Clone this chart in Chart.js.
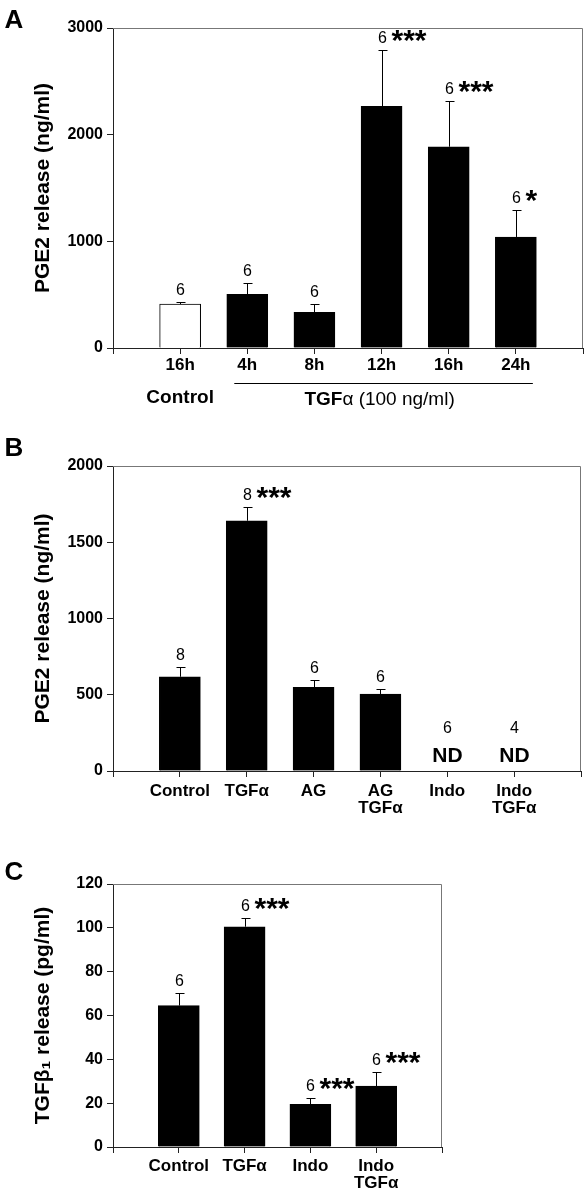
<!DOCTYPE html>
<html>
<head>
<meta charset="utf-8">
<script src="https://cdn.jsdelivr.net/npm/chart.js@4/dist/chart.umd.min.js"></script>
<style>
  body { margin: 0; background: #fff; width: 586px; height: 1199px; position: relative; overflow: hidden; }
  canvas { position: absolute; left: 0; }
</style>
</head>
<body>
<canvas id="chartA" width="586" height="410" style="top:0"></canvas>
<canvas id="chartB" width="586" height="405" style="top:415px"></canvas>
<canvas id="chartC" width="586" height="369" style="top:830px"></canvas>
<script>
// Panel A - PGE2 release over time
const labelsA = ['', '16h', '4h', '8h', '12h', '16h', '24h', ''];
const meanA = [null, 412, 503, 335, 2266, 1887, 1041, null];
const semA = [null, 18, 106, 75, 528, 431, 253, null];
const nA = ['', '6', '6', '6', '6', '6', '6', ''];
const starsA = ['', '', '', '', '***', '***', '*', ''];
const ticksA = [0, 1000, 2000, 3000];

// Panel B - PGE2 release with inhibitors
const labelsB = ['', 'Control', 'TGFα', 'AG', ['AG', 'TGFα'], 'Indo', ['Indo', 'TGFα'], ''];
const meanB = [null, 618, 1641, 549, 505, null, null, null];
const semB = [null, 66, 88, 48, 35, null, null, null];
const nB = ['', '8', '8', '6', '6', '6', '4', ''];
const starsB = ['', '', '***', '', '', '', '', ''];
const ndB = [false, false, false, false, false, true, true, false];
const ticksB = [0, 500, 1000, 1500, 2000];

// Panel C - TGFb1 release
const labelsC = ['', 'Control', 'TGFα', 'Indo', ['Indo', 'TGFα'], ''];
const meanC = [null, 64.5, 100.5, 19.5, 27.8, null];
const semC = [null, 5.9, 4.1, 2.7, 6.6, null];
const nC = ['', '6', '6', '6', '6', ''];
const starsC = ['', '', '***', '***', '***', ''];
const ticksC = [0, 20, 40, 60, 80, 100, 120];

const FONT = "'Liberation Sans', Arial, 'DejaVu Sans', sans-serif";

function buildPanel(id, p) {
  const canvas = document.getElementById(id);
  const H = canvas.height;

  const marks = {
    id: 'marks_' + id,
    afterDatasetsDraw(chart) {
      const { ctx, chartArea: a, scales: { x, y } } = chart;
      ctx.save();
      // frame top + right
      ctx.strokeStyle = '#777';
      ctx.lineWidth = 1;
      ctx.beginPath();
      ctx.moveTo(a.left, a.top + 0.5);
      ctx.lineTo(a.right - 0.5, a.top + 0.5);
      ctx.lineTo(a.right - 0.5, a.bottom);
      ctx.stroke();

      const base = y.getPixelForValue(0);
      ctx.fillStyle = '#000';
      ctx.strokeStyle = '#000';
      p.mean.forEach((m, i) => {
        const px = Math.round(x.getPixelForValue(i)) + 0.5;
        let topY;
        if (m == null) {
          if (!p.nd || !p.nd[i]) return;
          ctx.font = 'bold 21px ' + FONT;
          ctx.textAlign = 'center';
          ctx.textBaseline = 'middle';
          ctx.fillText('ND', px, base - 15);
          topY = base - 30;
        } else {
          const yb = y.getPixelForValue(m);
          const ye = Math.round(y.getPixelForValue(m + p.sem[i])) + 0.5;
          ctx.beginPath();
          ctx.moveTo(px, yb);
          ctx.lineTo(px, ye);
          ctx.moveTo(px - 4, ye);
          ctx.lineTo(px + 5, ye);
          ctx.stroke();
          topY = ye;
        }
        const ny = topY - 12;
        if (p.n[i]) {
          ctx.font = '16px ' + FONT;
          ctx.textAlign = 'center';
          ctx.textBaseline = 'middle';
          ctx.fillText(p.n[i], px, ny);
        }
        if (p.stars[i]) {
          ctx.font = 'bold 30px ' + FONT;
          ctx.textAlign = 'left';
          ctx.textBaseline = 'alphabetic';
          ctx.fillText(p.stars[i], px + 9, ny - 6 + 30 * 0.57);
        }
      });

      // panel letter
      ctx.font = 'bold 26px ' + FONT;
      ctx.textAlign = 'center';
      ctx.textBaseline = 'middle';
      ctx.fillText(p.letter, 14, p.letterY);

      if (p.extra) p.extra(chart);
      ctx.restore();
    },
  };

  return new Chart(canvas, {
    type: 'bar',
    data: {
      labels: p.labels,
      datasets: [{
        data: p.mean,
        backgroundColor: p.fill,
        borderColor: '#000',
        borderWidth: 1,
        barThickness: 41,
      }],
    },
    options: {
      responsive: false,
      animation: false,
      devicePixelRatio: 1,
      layout: { padding: { top: p.top, right: 586 - p.right, left: 0, bottom: 0 } },
      plugins: { legend: { display: false }, tooltip: { enabled: false } },
      scales: {
        x: {
          offset: false,
          grid: { offset: false, drawOnChartArea: false, drawTicks: true, tickLength: 6, color: '#222' },
          border: { color: '#222', width: 1 },
          ticks: {
            autoSkip: false, maxRotation: 0, minRotation: 0, color: '#000', padding: p.xPad,
            font: { family: FONT, size: 17, weight: 'bold', lineHeight: 1.05 },
          },
          afterFit: s => { s.height = H - p.bottom; },
        },
        y: {
          min: 0,
          max: p.ticks[p.ticks.length - 1],
          afterBuildTicks: s => { s.ticks = p.ticks.map(v => ({ value: v })); },
          ticks: {
            color: '#000', padding: 4,
            font: { family: FONT, size: 16, weight: 'bold' },
            callback: v => String(v),
          },
          grid: { drawOnChartArea: false, tickLength: 6, color: '#222' },
          border: { color: '#222', width: 1 },
          title: {
            display: true, text: p.yTitle, color: '#000',
            font: { family: FONT, size: 21, weight: 'bold' },
            padding: { top: 31, bottom: 0 },
          },
          afterFit: s => { s.width = 113; },
        },
      },
    },
    plugins: [marks],
  });
}

const chartA = buildPanel('chartA', {
  labels: labelsA, mean: meanA, sem: semA, n: nA, stars: starsA, ticks: ticksA,
  fill: labelsA.map((_, i) => (i === 1 ? '#fff' : '#000')),
  top: 28, bottom: 348, right: 583, xPad: 2,
  yTitle: 'PGE2 release (ng/ml)', letter: 'A', letterY: 21,
  extra(chart) {
    const { ctx, scales: { x } } = chart;
    ctx.font = 'bold 19px ' + FONT;
    ctx.textAlign = 'center';
    ctx.textBaseline = 'middle';
    ctx.fillText('Control', x.getPixelForValue(1), 398);
    const x0 = x.getPixelForValue(2) - 13;
    const x1 = x.getPixelForValue(6) + 17;
    ctx.lineWidth = 1;
    ctx.beginPath();
    ctx.moveTo(x0, 383.5);
    ctx.lineTo(x1, 383.5);
    ctx.stroke();
    // "TGFα (100 ng/ml)" with bold TGF
    const boldPart = 'TGF';
    const rest = 'α (100 ng/ml)';
    ctx.font = 'bold 19px ' + FONT;
    const w1 = ctx.measureText(boldPart).width;
    ctx.font = '19px ' + FONT;
    const w2 = ctx.measureText(rest).width;
    const cx = (x0 + x1) / 2 - 4;
    const sx = cx - (w1 + w2) / 2;
    ctx.textAlign = 'left';
    ctx.font = 'bold 19px ' + FONT;
    ctx.fillText(boldPart, sx, 400);
    ctx.font = '19px ' + FONT;
    ctx.fillText(rest, sx + w1, 400);
  },
});

const chartB = buildPanel('chartB', {
  labels: labelsB, mean: meanB, sem: semB, n: nB, stars: starsB, nd: ndB, ticks: ticksB,
  fill: '#000',
  top: 51, bottom: 356, right: 582, xPad: 5,
  yTitle: 'PGE2 release (ng/ml)', letter: 'B', letterY: 34,
});

const chartC = buildPanel('chartC', {
  labels: labelsC, mean: meanC, sem: semC, n: nC, stars: starsC, ticks: ticksC,
  fill: '#000',
  top: 54, bottom: 317, right: 442, xPad: 4,
  yTitle: 'TGFβ₁ release (pg/ml)', letter: 'C', letterY: 43,
});
</script>
</body>
</html>
